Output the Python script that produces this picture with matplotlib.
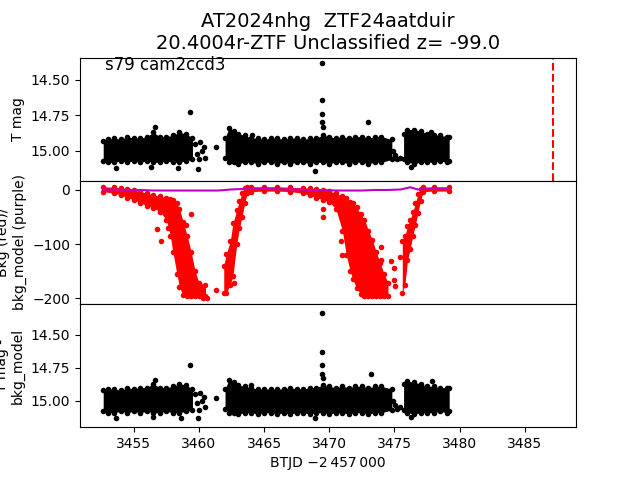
import matplotlib
matplotlib.use("Agg")
import matplotlib.pyplot as plt
import numpy as np

# ---------------- data ----------------
title = "AT2024nhg  ZTF24aatduir\n20.4004r-ZTF Unclassified z= -99.0"
sector_label = "s79 cam2ccd3"
t_event = 3487.2

# time grids of the three dense observing stretches
seg1_t = [3452.65, 3453.0, 3453.5, 3454.0, 3454.5, 3455.0, 3455.5, 3456.0, 3456.5,
          3457.0, 3457.5, 3458.0, 3458.5, 3459.0, 3459.5]
seg2_t = [3462.0, 3462.3, 3462.7, 3463.0, 3463.5, 3464.0, 3464.5, 3465.0, 3465.5,
          3466.0, 3466.5, 3467.0, 3467.5, 3468.0, 3468.5, 3469.0, 3469.5, 3470.0,
          3470.5, 3471.0, 3471.5, 3472.0, 3472.5, 3473.0, 3473.5, 3474.0, 3474.8]
seg3_t = [3475.7, 3476.0, 3476.5, 3477.0, 3477.5, 3478.0, 3478.5, 3479.0, 3479.2]

# top panel: T mag upper / lower extent of the dense scatter
mag_hi1 = [14.93, 14.92, 14.91, 14.92, 14.90, 14.91, 14.91, 14.90, 14.87, 14.90,
           14.90, 14.89, 14.87, 14.88, 14.91]
mag_lo1 = [15.07, 15.08, 15.08, 15.07, 15.08, 15.07, 15.08, 15.07, 15.08, 15.08,
           15.07, 15.08, 15.08, 15.07, 15.06]
mag_hi2 = [14.91, 14.84, 14.86, 14.88, 14.89, 14.91, 14.91, 14.92, 14.91, 14.91,
           14.92, 14.91, 14.91, 14.92, 14.91, 14.91, 14.89, 14.90, 14.91, 14.90,
           14.91, 14.90, 14.90, 14.91, 14.90, 14.90, 14.92]
mag_lo2 = [15.05, 15.08, 15.08, 15.09, 15.08, 15.08, 15.09, 15.08, 15.08, 15.09,
           15.08, 15.09, 15.08, 15.08, 15.09, 15.08, 15.08, 15.09, 15.08, 15.08,
           15.09, 15.08, 15.08, 15.09, 15.08, 15.08, 15.06]
mag_hi3 = [14.88, 14.85, 14.85, 14.86, 14.88, 14.89, 14.89, 14.90, 14.90]
mag_lo3 = [15.06, 15.08, 15.09, 15.08, 15.08, 15.08, 15.07, 15.08, 15.07]

mag_out_t = [3453.6, 3456.3, 3458.4, 3459.9, 3459.3, 3456.6, 3459.7, 3459.85, 3460.05,
             3460.2, 3460.35, 3460.5, 3460.0, 3461.3, 3464.1, 3469.45, 3469.42,
             3469.45, 3469.45, 3469.48, 3468.9, 3472.97, 3474.9, 3475.05,
             3475.2, 3475.4, 3476.3, 3477.8]
mag_out = [15.12, 15.11, 15.12, 15.13, 14.73, 14.83, 14.95, 15.02, 14.94,
           15.00, 14.97, 15.05, 15.06, 14.975, 14.887, 14.385, 14.64,
           14.74, 14.80, 14.83, 15.14, 14.80, 15.00, 15.03,
           15.06, 15.05, 15.11, 14.87]

# bottom panel: T mag - bkg_model
dmag_hi1 = [14.92, 14.91, 14.91, 14.92, 14.90, 14.91, 14.90, 14.90, 14.87, 14.90,
            14.90, 14.89, 14.87, 14.88, 14.91]
dmag_lo1 = [15.08, 15.09, 15.09, 15.08, 15.09, 15.08, 15.09, 15.08, 15.09, 15.09,
            15.08, 15.09, 15.09, 15.08, 15.07]
dmag_hi2 = [14.91, 14.84, 14.86, 14.88, 14.89, 14.90, 14.91, 14.91, 14.91, 14.91,
            14.91, 14.90, 14.91, 14.91, 14.90, 14.90, 14.88, 14.89, 14.90, 14.89,
            14.90, 14.89, 14.89, 14.90, 14.89, 14.89, 14.91]
dmag_lo2 = [15.06, 15.09, 15.09, 15.10, 15.09, 15.09, 15.10, 15.09, 15.09, 15.10,
            15.09, 15.10, 15.09, 15.09, 15.10, 15.09, 15.09, 15.10, 15.09, 15.09,
            15.10, 15.09, 15.09, 15.10, 15.09, 15.09, 15.07]
dmag_hi3 = [14.87, 14.85, 14.86, 14.87, 14.89, 14.89, 14.90, 14.90, 14.90]
dmag_lo3 = [15.07, 15.09, 15.10, 15.09, 15.09, 15.09, 15.08, 15.09, 15.08]

dmag_out_t = [3453.6, 3456.5, 3458.6, 3459.9, 3459.3, 3456.6, 3459.7, 3459.85, 3460.05,
              3460.2, 3460.35, 3460.5, 3460.0, 3461.3, 3464.0, 3469.45, 3469.42,
              3469.45, 3469.45, 3469.48, 3468.9, 3473.2, 3474.9, 3475.05,
              3475.2, 3475.4, 3476.3, 3477.9]
dmag_out = [15.13, 15.12, 15.13, 15.13, 14.73, 14.84, 14.95, 15.02, 14.94,
            15.00, 14.97, 15.05, 15.07, 14.975, 14.88, 14.33, 14.63,
            14.73, 14.80, 14.83, 15.13, 14.795, 15.00, 15.03,
            15.06, 15.05, 15.12, 14.85]

# middle panel: background flux (red), upper / lower extent
bkg_t = [3452.65, 3453.5, 3454.0, 3454.5, 3455.0, 3455.5, 3456.0, 3456.5, 3457.0,
         3457.5, 3457.8, 3458.0, 3458.3, 3458.5, 3458.8, 3459.1, 3459.4, 3459.7,
         3460.0, 3460.5]
bkg_hi = [6, 5, 4, 2, 0, -3, -6, -9, -12, -14, -16, -18, -25, -35, -60, -85, -115,
          -150, -172, -175]
bkg_lo = [-3, -6, -9, -14, -18, -24, -29, -33, -40, -55, -85, -115, -155, -180, -195,
          -196, -196, -196, -196, -196]
bkg2_t = [3461.9, 3462.1, 3462.4, 3462.6, 3462.9, 3463.1, 3463.3, 3463.5, 3463.7,
          3464.0, 3465.0, 3466.0, 3467.0, 3468.0, 3468.5, 3469.0, 3469.5, 3470.0,
          3470.5, 3471.0, 3471.3, 3471.6, 3471.8, 3472.1, 3472.4, 3472.7, 3473.0,
          3473.3, 3473.6, 3473.9, 3474.2, 3474.5]
bkg2_hi = [-140, -118, -95, -62, -37, -20, -6, 4, 6, 6, 6, 6, 5, 4, 3, 2, 0, -2,
           -6, -12, -15, -22, -25, -32, -45, -55, -75, -92, -115, -135, -155, -172]
bkg2_lo = [-190, -190, -175, -160, -100, -70, -50, -25, -6, -3, -2, -2, -3, -6, -10,
           -14, -18, -22, -35, -75, -120, -150, -165, -182, -192, -196, -196, -196,
           -196, -196, -196, -196]
bkg3_t = [3475.6, 3475.8, 3476.0, 3476.2, 3476.4, 3476.6, 3476.8, 3477.0, 3477.2,
          3478.0, 3479.2]
bkg3_hi = [-95, -85, -67, -55, -41, -25, -8, 2, 5, 6, 6]
bkg3_lo = [-190, -175, -130, -110, -85, -65, -42, -20, -3, -2, -2]

bkg_out_t = [3456.8, 3457.1, 3459.0, 3459.4, 3461.3, 3462.7, 3469.5, 3469.5, 3474.0,
             3474.0, 3474.7, 3475.0, 3475.0, 3475.05, 3475.4, 3460.3, 3460.6,
             3470.9, 3471.0, 3457.6]
bkg_out = [-73, -95, -65, -45, -186, -172, -35, -50, -105, -130, -132, -145, -166,
           -178, -124, -200, -200, -95, -120, -70]

# background model (purple)
model_t = [3452.65, 3453.5, 3454.5, 3455.5, 3456.5, 3457.5, 3458.5, 3459.5, 3460.5,
           3461.5, 3462.5, 3463.5, 3464.5, 3465.5, 3466.5, 3467.5, 3468.5, 3469.5,
           3470.5, 3471.5, 3472.5, 3473.5, 3474.5, 3475.5, 3476.2, 3476.8, 3477.5,
           3478.5, 3479.2]
model = [1, 1, 0, 0, -1, -1, -1, -1, -1, -1, 1, 2, 2, 2, 1, 1, 0, 0, -1, -1, -1,
         0, 0, 1, 5, 1, 2, 2, 2]

# ---------------- figure ----------------
fig, (ax1, ax2, ax3) = plt.subplots(3, 1, sharex=True, figsize=(6.4, 4.8), dpi=100)
fig.subplots_adjust(hspace=0)

ms = 4

def band(ax, t, hi, lo, color):
    ax.fill_between(t, hi, lo, color=color, lw=0)
    ax.plot(t, hi, 'o', color=color, ms=ms, mec='none')
    ax.plot(t, lo, 'o', color=color, ms=ms, mec='none')

for t, hi, lo in [(seg1_t, mag_hi1, mag_lo1), (seg2_t, mag_hi2, mag_lo2),
                  (seg3_t, mag_hi3, mag_lo3)]:
    band(ax1, t, hi, lo, 'k')
ax1.plot(mag_out_t, mag_out, 'o', color='k', ms=ms, mec='none')
ax1.axvline(t_event, color='r', ls='--', lw=1.5)
ax1.set_ylim(15.21, 14.345)
ax1.set_yticks([14.50, 14.75, 15.00])
ax1.set_ylabel("T mag")
ax1.text(0.05, 0.9, sector_label, transform=ax1.transAxes, fontsize=12)
ax1.set_title(title, fontsize=14)

for t, hi, lo in [(bkg_t, bkg_hi, bkg_lo), (bkg2_t, bkg2_hi, bkg2_lo),
                  (bkg3_t, bkg3_hi, bkg3_lo)]:
    band(ax2, t, hi, lo, 'r')
ax2.plot(bkg_out_t, bkg_out, 'o', color='r', ms=ms, mec='none')
ax2.plot(model_t, model, '-', color='m', lw=1.5)
ax2.set_ylim(-211, 17)
ax2.set_yticks([0, -100, -200])
ax2.set_ylabel("Bkg (red)/\nbkg_model (purple)")

for t, hi, lo in [(seg1_t, dmag_hi1, dmag_lo1), (seg2_t, dmag_hi2, dmag_lo2),
                  (seg3_t, dmag_hi3, dmag_lo3)]:
    band(ax3, t, hi, lo, 'k')
ax3.plot(dmag_out_t, dmag_out, 'o', color='k', ms=ms, mec='none')
ax3.set_ylim(15.20, 14.265)
ax3.set_yticks([14.50, 14.75, 15.00])
ax3.set_ylabel("T mag -\nbkg_model")

ax3.set_xlim(3450.87, 3488.93)
ax3.set_xticks([3455, 3460, 3465, 3470, 3475, 3480, 3485])
ax3.set_xlabel("BTJD \u22122\u2009457\u2009000")

fig.savefig("out.png", dpi=100)
